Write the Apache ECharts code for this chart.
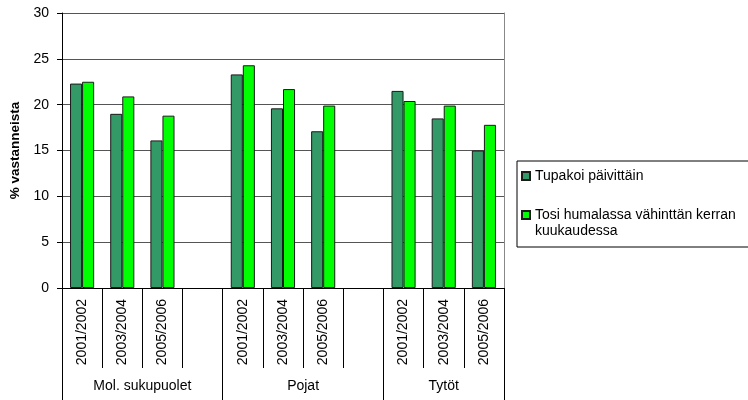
<!DOCTYPE html>
<html>
<head>
<meta charset="utf-8">
<script src="https://cdn.jsdelivr.net/npm/echarts@6/dist/echarts.min.js"></script>
<style>html,body{margin:0;padding:0;background:#fff}#c{width:748px;height:400px}</style>
</head>
<body>
<div id="c"></div>
<script>
var categories = ['2001/2002','2003/2004','2005/2006','','2001/2002','2003/2004','2005/2006','','2001/2002','2003/2004','2005/2006'];
var groupNames = ['Mol. sukupuolet','Pojat','Tytöt'];
var groupCenters = [2, 6, 9.5];
var groupBounds = [0, 4, 8, 11];
var seriesNames = ['Tupakoi päivittäin','Tosi humalassa vähinttän kerran kuukaudessa'];
var smoking = [22.3, 19.0, 16.1, null, 23.3, 19.6, 17.1, null, 21.5, 18.5, 15.0];
var drunk   = [22.5, 20.9, 18.8, null, 24.3, 21.7, 19.9, null, 20.4, 19.9, 17.8];
var yTicks = [0, 5, 10, 15, 20, 25, 30];

var font = 'Liberation Sans, Arial, sans-serif';
var chart = echarts.init(document.getElementById('c'));
chart.setOption({
  animation: false,
  textStyle: {fontFamily: font, color: '#000'},
  grid: {left: 62, right: 244, top: 13, bottom: 112, containLabel: false},
  legend: {
    orient: 'vertical', left: 517, top: 161,
    padding: [7, 40, 8, 4], itemGap: 7,
    borderColor: '#000', borderWidth: 1,
    icon: 'rect', itemWidth: 8, itemHeight: 8,
    textStyle: {fontFamily: font, fontSize: 14, color: '#000', lineHeight: 16},
    data: [seriesNames[0], seriesNames[1]],
    formatter: function (n) {
      return n.indexOf(' kuukaudessa') >= 0 ? '\n' + n.replace(' kuukaudessa', '\nkuukaudessa') : n;
    }
  },
  xAxis: [{
    type: 'category', data: categories, gridIndex: 0, position: 'bottom',
    axisLine: {lineStyle: {color: '#000', width: 1}},
    axisTick: {show: true, interval: 0, length: 80, lineStyle: {color: '#000'}},
    axisLabel: {rotate: 90, interval: 0, margin: 11, fontSize: 14, color: '#000', fontFamily: font},
    splitLine: {show: false}
  }, {
    type: 'value', min: 0, max: 11, gridIndex: 0, position: 'bottom',
    axisLine: {show: false},
    axisTick: {show: true, customValues: groupBounds, length: 112, lineStyle: {color: '#000'}},
    axisLabel: {show: true, customValues: groupCenters, margin: 91, fontSize: 14, color: '#000', fontFamily: font,
      formatter: function (v) { var i = groupCenters.indexOf(v); return i >= 0 ? groupNames[i] : ''; }},
    splitLine: {show: false}
  }],
  yAxis: [{
    type: 'value', min: 0, max: 30, interval: 5,
    name: '% vastanneista', nameLocation: 'middle', nameGap: 38, nameRotate: 90,
    nameTextStyle: {fontWeight: 'bold', fontSize: 13.5, color: '#000', fontFamily: font},
    axisLine: {show: true, lineStyle: {color: '#000'}},
    axisTick: {show: true, length: 5, lineStyle: {color: '#000'}},
    axisLabel: {margin: 13, fontSize: 14, color: '#000', fontFamily: font,
      formatter: function (v) { return yTicks.indexOf(v) >= 0 ? String(v) : ''; }},
    splitLine: {show: true, lineStyle: {color: '#555', width: 1}}
  }, {
    type: 'value', min: 0, max: 30, interval: 5, position: 'right',
    axisLine: {show: true, lineStyle: {color: '#888'}},
    axisTick: {show: false}, axisLabel: {show: false}, splitLine: {show: false}
  }],
  series: [{
    name: seriesNames[0], type: 'bar', data: smoking, xAxisIndex: 0, yAxisIndex: 0,
    barGap: '0%', barCategoryGap: '40%',
    itemStyle: {color: '#339966', borderColor: '#1a1a1a', borderWidth: 1}
  }, {
    name: seriesNames[1], type: 'bar', data: drunk, xAxisIndex: 0, yAxisIndex: 0,
    barGap: '0%', barCategoryGap: '40%',
    itemStyle: {color: '#00ff00', borderColor: '#1a1a1a', borderWidth: 1}
  }]
});
</script>
</body>
</html>
